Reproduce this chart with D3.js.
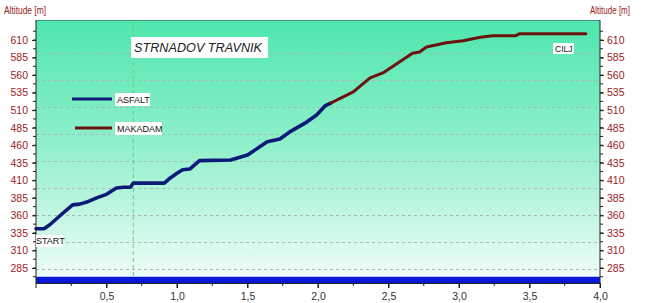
<!DOCTYPE html>
<html><head><meta charset="utf-8">
<script src="https://cdn.jsdelivr.net/npm/d3@7/dist/d3.min.js"></script>
<style>
html,body{margin:0;padding:0;background:#fff;}
svg{display:block;font-family:"Liberation Sans",Arial,sans-serif;}
</style></head>
<body>
<svg id="c" width="650" height="303"></svg>
<script>
// ---- data ----
const asfaltKm  = [0.00,0.057,0.10,0.19,0.26,0.31,0.36,0.43,0.50,0.57,0.62,0.67,0.69,0.91,0.95,1.00,1.04,1.09,1.16,1.38,1.50,1.64,1.73,1.80,1.92,1.99,2.05,2.09];
const asfaltAlt = [341,341,347,363,375,376,379,385,390,399,400,400,406,406,413,420,425,426,438,439,446,465,469,479,493,503,516,520];
const makadamKm  = [2.09,2.25,2.37,2.46,2.58,2.67,2.72,2.77,2.91,3.03,3.15,3.24,3.40,3.43,3.90];
const makadamAlt = [520,536,556,563,579,591,593,600,606,609,614,616,616,619,619];
const yTicks = [285,310,335,360,385,410,435,460,485,510,535,560,585,610];
const xTicks = [0.5,1.0,1.5,2.0,2.5,3.0,3.5,4.0];
const xTickLabels = ["0,5","1,0","1,5","2,0","2,5","3,0","3,5","4,0"];
const gridAlt = [284,322,361,399,437,476,514,553,592];
const markerKm = 0.69;
const seriesNames = ["ASFALT","MAKADAM"];
const title = "STRNADOV TRAVNIK";

// ---- layout ----
const L = 36, R = 600, T = 20, B = 283;
const svg = d3.select("#c");
const x = d3.scaleLinear().domain([0,4]).range([L,R]);
const y = d3.scaleLinear().domain([263.6,638.5]).range([B,T]);

const defs = svg.append("defs");
const g = defs.append("linearGradient").attr("id","bg").attr("x1",0).attr("y1",0).attr("x2",0).attr("y2",1);
g.append("stop").attr("offset","0%").attr("stop-color","#4fe6ad");
g.append("stop").attr("offset","45%").attr("stop-color","#8cefc9");
g.append("stop").attr("offset","100%").attr("stop-color","#f3fdf9");

svg.append("rect").attr("x",L).attr("y",T).attr("width",R-L).attr("height",B-T).attr("fill","url(#bg)");
svg.append("line").attr("x1",L).attr("x2",R).attr("y1",T+0.5).attr("y2",T+0.5).attr("stroke","#3c9c80").attr("stroke-width",1);

// gridlines
svg.append("g").selectAll("line").data(gridAlt).join("line")
  .attr("x1",L).attr("x2",R).attr("y1",d=>Math.round(y(d))+0.5).attr("y2",d=>Math.round(y(d))+0.5)
  .attr("stroke","#a9b8b0").attr("stroke-width",1).attr("stroke-dasharray","3,3");

// vertical marker
svg.append("line").attr("x1",x(markerKm)).attr("x2",x(markerKm)).attr("y1",T).attr("y2",y(272.5))
  .attr("stroke","#5fcf7a").attr("stroke-width",1).attr("stroke-dasharray","4,3");

// ground bar
svg.append("rect").attr("x",L).attr("width",R-L).attr("y",y(272.5)).attr("height",y(263.6)-y(272.5)).attr("fill","#0a18d8");

// lines
const line = d3.line().x(d=>x(d[0])).y(d=>y(d[1]));
svg.append("path").datum(asfaltKm.map((k,i)=>[k,asfaltAlt[i]])).attr("d",line)
  .attr("fill","none").attr("stroke","#0c1a78").attr("stroke-width",3.6).attr("stroke-linejoin","round").attr("stroke-linecap","round");
svg.append("path").datum(makadamKm.map((k,i)=>[k,makadamAlt[i]])).attr("d",line)
  .attr("fill","none").attr("stroke","#6a1410").attr("stroke-width",3).attr("stroke-linejoin","round").attr("stroke-linecap","round");

// axes
const yMinor = d3.range(272.5, 630, 12.5);
const yAxisL = d3.axisLeft(y).tickValues(yTicks).tickSize(4).tickPadding(4).tickFormat(d3.format("d"));
const yAxisR = d3.axisRight(y).tickValues(yTicks).tickSize(4).tickPadding(3).tickFormat(d3.format("d"));
const gl = svg.append("g").attr("transform",`translate(${L},0)`).call(yAxisL);
const gr = svg.append("g").attr("transform",`translate(${R},0)`).call(yAxisR);
[gl,gr].forEach(a=>{
  a.select(".domain").attr("stroke","#222").attr("d", null);
  a.selectAll("text").attr("fill","#9a1c1c").attr("font-size","10.5px").attr("font-family","Liberation Sans, Arial, sans-serif");
  a.selectAll("line").attr("stroke","#222");
});
gl.append("line").attr("x1",0).attr("x2",0).attr("y1",T).attr("y2",B).attr("stroke","#222");
gr.append("line").attr("x1",0).attr("x2",0).attr("y1",T).attr("y2",B).attr("stroke","#222");
svg.append("g").selectAll("line").data(yMinor).join("line")
  .attr("x1",L-3).attr("x2",L).attr("y1",d=>y(d)).attr("y2",d=>y(d)).attr("stroke","#222");
svg.append("g").selectAll("line").data(yMinor).join("line")
  .attr("x1",R).attr("x2",R+3).attr("y1",d=>y(d)).attr("y2",d=>y(d)).attr("stroke","#222");

const xAxis = d3.axisBottom(x).tickValues(xTicks).tickSize(5).tickPadding(5).tickFormat((d,i)=>xTickLabels[i]);
const gx = svg.append("g").attr("transform",`translate(0,${B})`).call(xAxis);
gx.select(".domain").remove();
gx.selectAll("text").attr("fill","#333").attr("font-size","10.5px").attr("font-family","Liberation Sans, Arial, sans-serif");
gx.selectAll("line").attr("stroke","#222");
gx.append("line").attr("x1",L).attr("x2",R).attr("y1",0.5).attr("y2",0.5).attr("stroke","#222");
gx.append("g").selectAll("line").data(d3.range(0,4.01,0.25)).join("line")
  .attr("x1",d=>x(d)).attr("x2",d=>x(d)).attr("y1",0).attr("y2",d=>(d%0.5===0)?5:3).attr("stroke","#222");

// axis titles
svg.append("text").attr("x",4).attr("y",14).attr("fill","#9a1c1c").attr("font-size","10px")
  .attr("textLength",42).attr("lengthAdjust","spacingAndGlyphs").text("Altitude [m]");
svg.append("text").attr("x",590).attr("y",14).attr("fill","#9a1c1c").attr("font-size","10px")
  .attr("textLength",40).attr("lengthAdjust","spacingAndGlyphs").text("Altitude [m]");

// title
svg.append("rect").attr("x",131).attr("y",37).attr("width",137).attr("height",21).attr("fill","#fff");
svg.append("text").attr("x",134).attr("y",52).attr("font-size","13px").attr("font-style","italic").attr("fill","#222")
  .attr("textLength",128).attr("lengthAdjust","spacingAndGlyphs").text(title);

// legend
const legendY = [99,128];
const legendColors = ["#0c1a78","#6a1410"];
const legendX0 = [72,75];
seriesNames.forEach((n,i)=>{
  svg.append("line").attr("x1",legendX0[i]).attr("x2",112).attr("y1",legendY[i]).attr("y2",legendY[i])
    .attr("stroke",legendColors[i]).attr("stroke-width",3.2);
  const w = i===0?35:47;
  svg.append("rect").attr("x",115).attr("y",legendY[i]-6).attr("width",w).attr("height",13).attr("fill","#fff");
  svg.append("text").attr("x",117).attr("y",legendY[i]+3.5).attr("font-size","9px").attr("fill","#111").text(n);
});

// START / CILJ labels
svg.append("rect").attr("x",36).attr("y",235).attr("width",27).attr("height",12).attr("fill","#fff");
svg.append("text").attr("x",36).attr("y",244).attr("font-size","9px").attr("fill","#111").text("START");
svg.append("rect").attr("x",553).attr("y",43).attr("width",21).attr("height",11).attr("fill","#fff");
svg.append("text").attr("x",555).attr("y",51.5).attr("font-size","8.5px").attr("fill","#111").text("CILJ");
</script>
</body></html>
